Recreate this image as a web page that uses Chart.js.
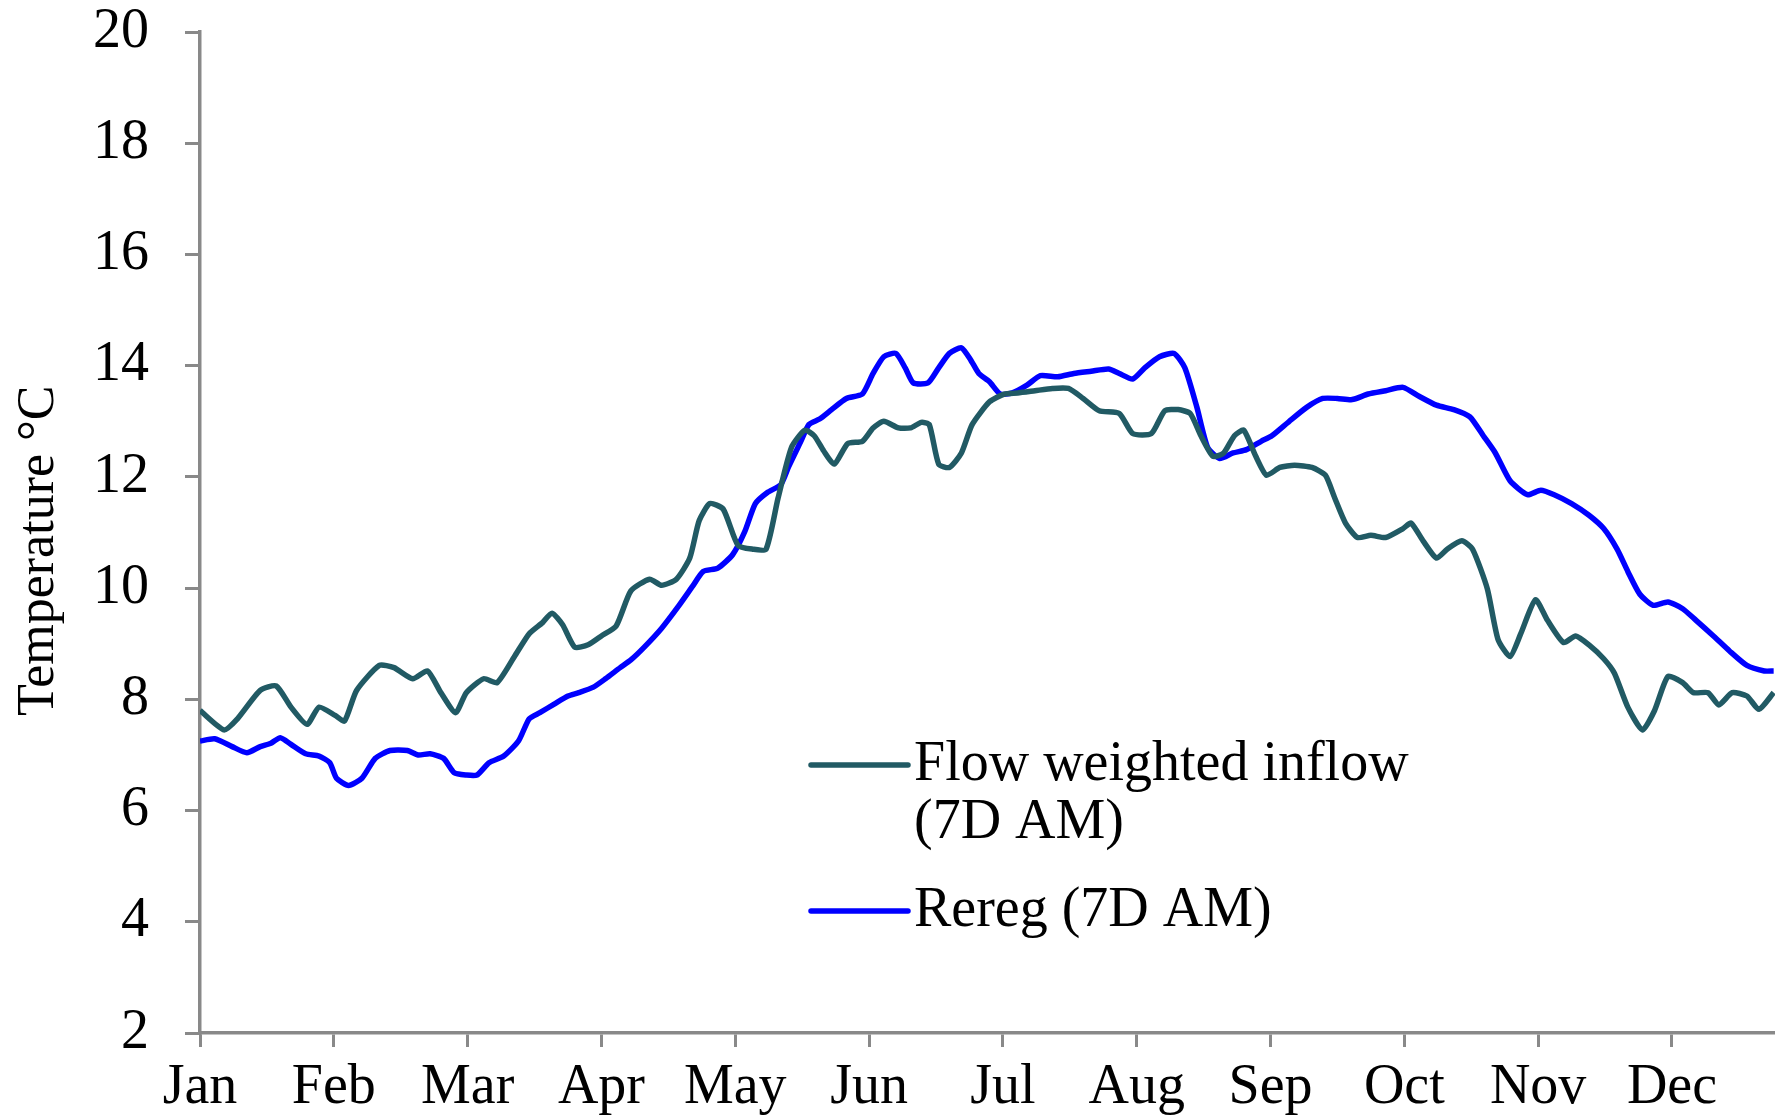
<!DOCTYPE html>
<html>
<head>
<meta charset="utf-8">
<script src="https://cdn.jsdelivr.net/npm/chart.js@4/dist/chart.umd.min.js"></script>
<style>
  html, body { margin: 0; padding: 0; background: #fff; }
  #wrap { width: 1775px; height: 1118px; }
</style>
</head>
<body>
<div id="wrap"><canvas id="myChart" width="1775" height="1118"></canvas></div>
<script>
// month labels for x axis (x values are in months from 1 Jan)
const monthLabels = ['Jan', 'Feb', 'Mar', 'Apr', 'May', 'Jun', 'Jul', 'Aug', 'Sep', 'Oct', 'Nov', 'Dec'];
const yTicks = [2, 4, 6, 8, 10, 12, 14, 16, 18, 20];

// Flow weighted inflow (7D AM)
const inflowMonth = [0.00, 0.18, 0.28, 0.45, 0.57, 0.68, 0.80, 0.89, 1.01, 1.08, 1.17, 1.34, 1.45, 1.59, 1.70, 1.80, 1.91, 1.99,
  2.12, 2.22, 2.35, 2.46, 2.56, 2.63, 2.71, 2.80, 2.90, 3.00, 3.11, 3.22, 3.36, 3.45, 3.56, 3.66, 3.73, 3.81, 3.91,
  4.02, 4.13, 4.23, 4.32, 4.42, 4.52, 4.59, 4.66, 4.74, 4.84, 4.95, 5.03, 5.11, 5.22, 5.31, 5.39, 5.45, 5.52, 5.60,
  5.69, 5.77, 5.90, 6.01, 6.11, 6.24, 6.37, 6.49, 6.60, 6.72, 6.87, 6.97, 7.11, 7.21, 7.31, 7.40, 7.48, 7.57, 7.65,
  7.73, 7.80, 7.89, 7.97, 8.07, 8.18, 8.31, 8.41, 8.48, 8.56, 8.65, 8.75, 8.86, 8.99, 9.05, 9.14, 9.24, 9.32, 9.43,
  9.51, 9.62, 9.70, 9.79, 9.87, 9.98, 10.07, 10.19, 10.28, 10.38, 10.49, 10.57, 10.67, 10.78, 10.87, 10.97, 11.08,
  11.16, 11.27, 11.35, 11.45, 11.56, 11.65, 11.76];
const inflowTemp = [7.80, 7.45, 7.65, 8.16, 8.24, 7.86, 7.55, 7.86, 7.71, 7.61, 8.16, 8.61, 8.57, 8.37, 8.51, 8.12, 7.76, 8.12,
  8.37, 8.30, 8.77, 9.18, 9.38, 9.55, 9.34, 8.94, 8.98, 9.14, 9.32, 9.95, 10.16, 10.05, 10.16, 10.54, 11.21, 11.52, 11.42,
  10.77, 10.70, 10.70, 11.62, 12.53, 12.84, 12.74, 12.47, 12.23, 12.60, 12.64, 12.88, 13.00, 12.88, 12.88, 12.98, 12.94, 12.23, 12.17,
  12.43, 12.94, 13.35, 13.49, 13.51, 13.55, 13.59, 13.59, 13.41, 13.19, 13.14, 12.78, 12.78, 13.19, 13.21, 13.14, 12.74, 12.37, 12.43,
  12.74, 12.84, 12.37, 12.03, 12.17, 12.21, 12.17, 12.03, 11.62, 11.17, 10.91, 10.95, 10.91, 11.07, 11.17, 10.85, 10.54, 10.70, 10.85,
  10.70, 9.99, 9.08, 8.77, 9.18, 9.79, 9.42, 9.02, 9.14, 8.98, 8.73, 8.47, 7.86, 7.45, 7.80, 8.41, 8.30,
  8.12, 8.12, 7.90, 8.12, 8.06, 7.82, 8.12];

// Rereg (7D AM)
const reregMonth = [0.00, 0.11, 0.24, 0.35, 0.45, 0.53, 0.60, 0.68, 0.79, 0.89, 0.97, 1.02, 1.11, 1.21, 1.31, 1.42, 1.55, 1.63,
  1.72, 1.82, 1.90, 1.99, 2.07, 2.16, 2.27, 2.38, 2.46, 2.54, 2.65, 2.75, 2.83, 2.94, 3.03, 3.14, 3.22, 3.32, 3.45,
  3.58, 3.68, 3.76, 3.87, 3.98, 4.07, 4.15, 4.24, 4.34, 4.40, 4.49, 4.55, 4.63, 4.72, 4.83, 4.95, 5.03, 5.11, 5.20,
  5.27, 5.33, 5.44, 5.52, 5.60, 5.69, 5.76, 5.82, 5.90, 5.98, 6.07, 6.18, 6.28, 6.41, 6.53, 6.66, 6.79, 6.87, 6.97,
  7.06, 7.17, 7.28, 7.36, 7.45, 7.53, 7.62, 7.72, 7.82, 7.93, 8.01, 8.14, 8.27, 8.39, 8.50, 8.61, 8.73, 8.86, 8.99,
  9.11, 9.24, 9.37, 9.49, 9.59, 9.68, 9.79, 9.92, 10.02, 10.12, 10.25, 10.38, 10.49, 10.59, 10.67, 10.76, 10.86,
  10.97, 11.08, 11.18, 11.31, 11.43, 11.56, 11.69, 11.76];
const reregTemp = [7.25, 7.29, 7.15, 7.04, 7.15, 7.21, 7.31, 7.19, 7.02, 6.98, 6.86, 6.58, 6.45, 6.58, 6.94, 7.08, 7.08, 7.00,
  7.02, 6.94, 6.68, 6.64, 6.64, 6.86, 6.98, 7.25, 7.65, 7.76, 7.92, 8.06, 8.12, 8.22, 8.37, 8.57, 8.71, 8.94, 9.28,
  9.69, 10.03, 10.30, 10.36, 10.60, 11.01, 11.52, 11.72, 11.86, 12.19, 12.64, 12.94, 13.04, 13.21, 13.41, 13.49, 13.86, 14.16, 14.22,
  13.96, 13.69, 13.69, 13.96, 14.22, 14.32, 14.10, 13.86, 13.71, 13.49, 13.51, 13.65, 13.82, 13.80, 13.86, 13.90, 13.94, 13.86, 13.76,
  13.96, 14.16, 14.22, 13.96, 13.25, 12.53, 12.33, 12.43, 12.49, 12.64, 12.74, 13.00, 13.25, 13.41, 13.41, 13.39, 13.49, 13.55, 13.61,
  13.45, 13.29, 13.21, 13.08, 12.74, 12.43, 11.93, 11.68, 11.76, 11.68, 11.52, 11.31, 11.07, 10.70, 10.30, 9.89, 9.69,
  9.75, 9.63, 9.42, 9.14, 8.87, 8.61, 8.51, 8.51];

const xMax = 11.77; // chart is cut at the right edge, just before year end

const axisGray = '#898989';
const serif = '"Liberation Serif", "Times New Roman", serif';

function toPoints(xs, ys) {
    return xs.map((x, i) => ({ x: x, y: ys[i] }));
}

// draws the legend inside the plot, as in the original
const insideLegend = {
    id: 'insideLegend',
    afterDraw(chart) {
        const c = chart.ctx;
        const items = [
            { ds: chart.data.datasets[0], lines: ['Flow weighted inflow', '(7D AM)'], y: 765 },
            { ds: chart.data.datasets[1], lines: ['Rereg (7D AM)'], y: 911 }
        ];
        c.save();
        c.font = '56px ' + serif;
        c.fillStyle = '#000';
        c.textBaseline = 'middle';
        c.textAlign = 'left';
        items.forEach(item => {
            c.strokeStyle = item.ds.borderColor;
            c.lineWidth = 5.5;
            c.lineCap = 'round';
            c.beginPath();
            c.moveTo(811, item.y);
            c.lineTo(908, item.y);
            c.stroke();
            item.lines.forEach((t, j) => {
                c.fillText(t, 914, item.y + j * 58);
            });
        });
        c.restore();
    }
};

const ctx = document.getElementById('myChart').getContext('2d');
const myChart = new Chart(ctx, {
    type: 'line',
    data: {
        datasets: [{
            label: 'Flow weighted inflow (7D AM)',
            data: toPoints(inflowMonth, inflowTemp),
            borderColor: '#215a64',
            borderWidth: 5.5,
            pointRadius: 0,
            tension: 0.2,
            fill: false
        }, {
            label: 'Rereg (7D AM)',
            data: toPoints(reregMonth, reregTemp),
            borderColor: '#0000ff',
            borderWidth: 5.5,
            pointRadius: 0,
            tension: 0.2,
            fill: false
        }]
    },
    options: {
        responsive: false,
        animation: false,
        layout: { padding: { top: 32, right: 0, bottom: 0, left: 0 } },
        plugins: {
            legend: { display: false },
            tooltip: { enabled: false }
        },
        scales: {
            x: {
                type: 'linear',
                min: 0,
                max: xMax,
                afterBuildTicks: s => { s.ticks = monthLabels.map((m, i) => ({ value: i })); },
                afterFit: s => { s.height = 85; s.paddingRight = 0; },
                border: { display: true, color: axisGray, width: 3.5 },
                grid: { drawOnChartArea: false, drawTicks: true, tickLength: 14, color: axisGray, lineWidth: 3 },
                ticks: {
                    autoSkip: false,
                    maxRotation: 0,
                    padding: 8,
                    color: '#000',
                    font: { family: serif, size: 56 },
                    callback: v => monthLabels[Math.round(v)] || ''
                }
            },
            y: {
                min: 2,
                max: 20,
                afterBuildTicks: s => { s.ticks = yTicks.map(v => ({ value: v })); },
                // fixed width and no extra top room for the "20" label
                afterFit: s => { s.width = 200; s.paddingTop = 0; s.paddingBottom = 0; },
                border: { display: true, color: axisGray, width: 3.5 },
                grid: { drawOnChartArea: false, drawTicks: true, tickLength: 15, color: axisGray, lineWidth: 3 },
                ticks: {
                    padding: 36,
                    color: '#000',
                    font: { family: serif, size: 56 }
                },
                title: {
                    display: true,
                    // trailing spaces nudge the rotated title a bit lower, like the original
                    text: 'Temperature °C\u2002\u2009',
                    color: '#000',
                    font: { family: serif, size: 52 },
                    padding: { top: 8, bottom: 0 }
                }
            }
        }
    },
    plugins: [insideLegend]
});
</script>
</body>
</html>
